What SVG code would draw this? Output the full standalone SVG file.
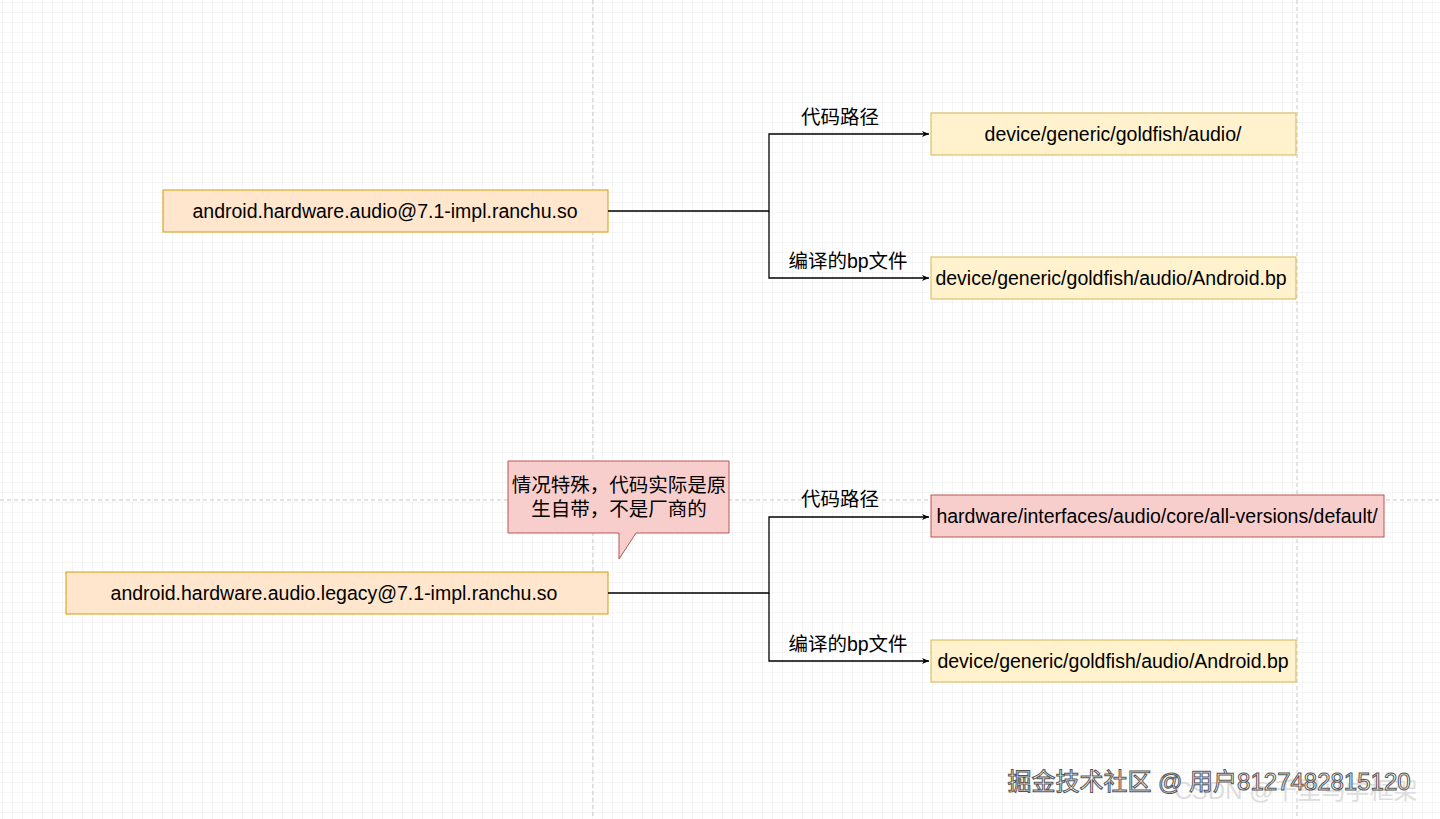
<svg xmlns="http://www.w3.org/2000/svg" width="1440" height="819" viewBox="0 0 1440 819">
<defs>
<pattern id="g" width="10" height="10" patternUnits="userSpaceOnUse" x="3" y="3"><path d="M10 0V10H0" fill="none" stroke="#ebebeb" stroke-width="1"/></pattern>
<marker id="a" markerWidth="8" markerHeight="8" refX="7" refY="4" orient="auto" markerUnits="userSpaceOnUse"><path d="M0 1L7 4L0 7L2 4Z" fill="#000"/></marker>
<style>
.y{fill:#fff2cc;stroke:#d6b656}
.o{fill:#ffe6cc;stroke:#d79b00}
.r{fill:#f8cecc;stroke:#b85450}
text{font-family:"Liberation Sans","Noto Sans CJK SC",sans-serif;font-size:19.5px;fill:#000;text-anchor:middle;dominant-baseline:central}
.e{fill:none;stroke:#000;stroke-width:1.3}
</style>
</defs>
<rect width="1440" height="819" fill="#fff"/>
<rect width="1440" height="819" fill="url(#g)"/>
<g stroke="#c8c8c8" stroke-dasharray="4 3"><path d="M593 0V819M1297 0V819M0 500H1440"/></g>
<g id="n1"><rect class="o" x="163" y="190" width="445" height="42"/><text x="385" y="211">android.hardware.audio@7.1-impl.ranchu.so</text></g>
<g id="n2"><rect class="y" x="931" y="113" width="365" height="42"/><text x="1113" y="134">device/generic/goldfish/audio/</text></g>
<g id="n3"><rect class="y" x="931" y="257" width="365" height="42"/><text x="1111" y="278">device/generic/goldfish/audio/Android.bp</text></g>
<g id="n4"><rect class="o" x="66" y="572" width="542" height="42"/><text x="334" y="593">android.hardware.audio.legacy@7.1-impl.ranchu.so</text></g>
<g id="n5"><rect class="r" x="931" y="495" width="453" height="42"/><text x="1157" y="516">hardware/interfaces/audio/core/all-versions/default/</text></g>
<g id="n6"><rect class="y" x="931" y="640" width="365" height="42"/><text x="1113" y="661">device/generic/goldfish/audio/Android.bp</text></g>
<g id="n7"><path class="r" d="M508 461H729V533H636L619 559L619 533H508Z"/><text x="619" y="485">情况特殊，代码实际是原</text><text x="619" y="509">生自带，不是厂商的</text></g>
<g id="edges">
<path class="e" d="M608 211H769V134H929" marker-end="url(#a)"/>
<path class="e" d="M769 211V278H929" marker-end="url(#a)"/>
<path class="e" d="M608 593H769V517H929" marker-end="url(#a)"/>
<path class="e" d="M769 593V661H929" marker-end="url(#a)"/>
<text x="840" y="117">代码路径</text><text x="848" y="261">编译的bp文件</text>
<text x="840" y="499">代码路径</text><text x="848" y="644">编译的bp文件</text>
</g>
<text x="1296" y="790" style="font-size:24px;fill:#ddd">CSDN @千里马学框架</text>
<text x="1209" y="781" style="font-size:24px;fill:#fff;stroke:#555;stroke-width:1">掘金技术社区 @ 用户8127482815120</text>
</svg>
